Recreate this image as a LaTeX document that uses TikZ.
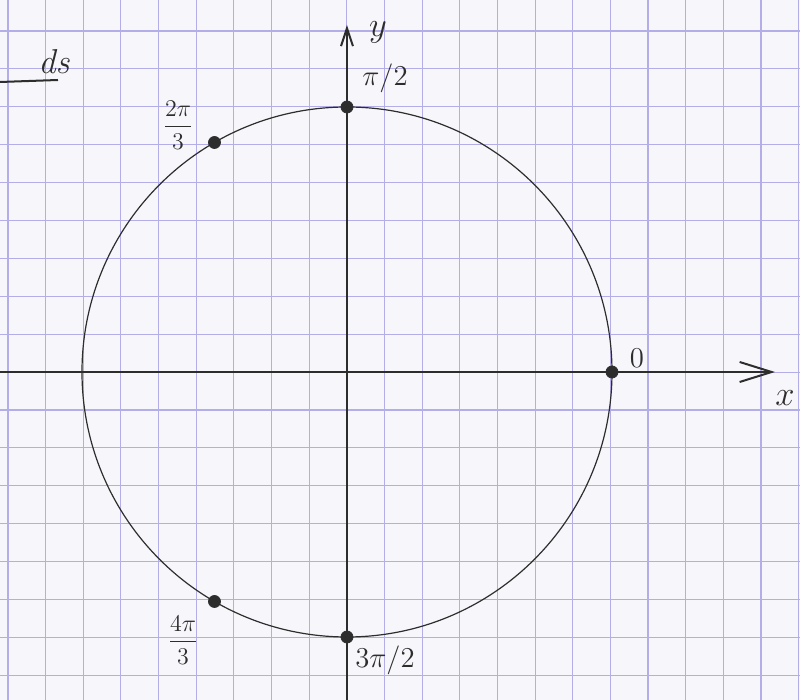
\documentclass[tikz,border=0pt]{standalone}
\usepackage{amsmath,amssymb}
\usepackage{xcolor}
\usetikzlibrary{arrows.meta}
\definecolor{papel}{RGB}{247,247,251}
\definecolor{cuadricula}{RGB}{180,174,232}
\definecolor{tinta}{RGB}{45,45,45}
\begin{document}
\begin{tikzpicture}[x=0.5pt, y=0.5pt,
        punto/.style={draw=tinta, fill=tinta, circle, inner sep=0pt, minimum size=6pt},
        etiqueta/.style={text=tinta, inner sep=1pt},
        eje/.style={draw=tinta, line width=1pt}]
      % 1 unidad = 1 px de la hoja; origen en el centro del circulo
      \def\rad{265}
      \def\cuadx{37.65}
      \def\cuady{37.9}
      % Hoja cuadriculada
      \fill[papel] (-347,-328) rectangle (453,372);
      \useasboundingbox (-347,-328) rectangle (453,372);
      \foreach \k in {0,...,21}
        \draw[cuadricula, line width=0.55pt] ({-339+\cuadx*\k},-328) -- ({-339+\cuadx*\k},372);
      \foreach \k in {0,...,17}
        \draw[cuadricula, line width=0.55pt] (-347,{341-\cuady*\k}) -- (453,{341-\cuady*\k});
      % Circulo unitario
      \draw[tinta, line width=0.6pt] (0,0) circle[radius=\rad];
      % Ejes
      \coordinate (xini) at (-347,0);
      \coordinate (xfin) at (428,0);
      \coordinate (yini) at (0,-328);
      \coordinate (yfin) at (0,347);
      \draw[eje, -{Straight Barb[length=16pt, width=10pt]}] (xini) -- (xfin);
      \draw[eje, -{Straight Barb[length=9pt, width=6pt]}] (yini) -- (yfin);
      \node[etiqueta, font=\LARGE] (lx) at (438,-26) {$x$};
      \node[etiqueta, font=\LARGE] (ly) at (31,340) {$y$};
      % Puntos sobre el circulo
      \node[punto] (p0) at (0:\rad) {};
      \node[punto] (p90) at (90:\rad) {};
      \node[punto] (p120) at (120:\rad) {};
      \node[punto] (p240) at (240:\rad) {};
      \node[punto] (p270) at (270:\rad) {};
      % Angulos
      \node[etiqueta, font=\Large] (l0) at (290,14) {$0$};
      \node[etiqueta, font=\Large] (l90) at (38,294) {$\pi/2$};
      \node[etiqueta, font=\large] (l120) at (-169,247) {$\dfrac{2\pi}{3}$};
      \node[etiqueta, font=\large] (l240) at (-164,-268) {$\dfrac{4\pi}{3}$};
      \node[etiqueta, font=\Large] (l270) at (38,-288) {$3\pi/2$};
      % Anotacion al margen
      \node[etiqueta, font=\LARGE\itshape] (nota) at (-293,310) {ds};
      \coordinate (subini) at (-347,290);
      \coordinate (subfin) at (-289,292);
      \draw[tinta, line width=1pt] (subini) -- (subfin);
    \end{tikzpicture}
\end{document}
